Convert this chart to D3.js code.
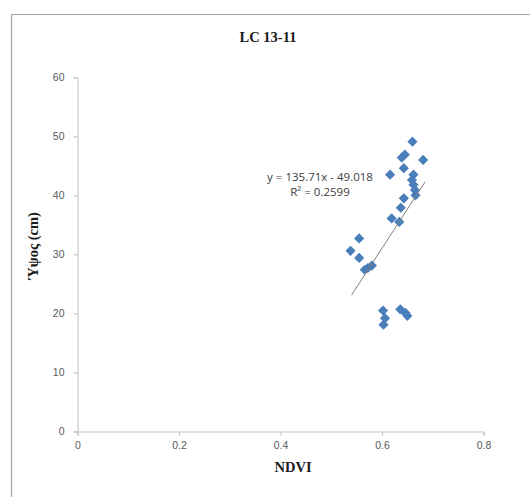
<!DOCTYPE html>
<html>
<head>
<meta charset="utf-8">
<script src="https://cdn.jsdelivr.net/npm/d3@7"></script>
<style>
  html, body { margin: 0; padding: 0; background: #fff; }
  svg { display: block; }
</style>
</head>
<body>
<svg id="chart" width="530" height="497"></svg>
<script>
// ---- data ----
const title = "LC 13-11";
const xLabel = "NDVI";
const yLabel = "Ύψος (cm)";
const ndvi = [0.660, 0.681, 0.639, 0.645, 0.616, 0.643, 0.662, 0.659, 0.662, 0.665, 0.666,
              0.643, 0.637, 0.619, 0.634, 0.555, 0.538, 0.555, 0.580, 0.572, 0.566,
              0.602, 0.606, 0.603, 0.636, 0.646, 0.650];
const height = [49.1, 46.0, 46.4, 46.9, 43.5, 44.6, 43.5, 42.6, 41.8, 40.9, 40.0,
                39.5, 37.9, 36.1, 35.5, 32.7, 30.6, 29.4, 28.1, 27.7, 27.4,
                20.5, 19.2, 18.1, 20.7, 20.1, 19.6];
const xTicks = [0, 0.2, 0.4, 0.6, 0.8];
const yTicks = [0, 10, 20, 30, 40, 50, 60];
const trendX = [0.540, 0.685];
const trendY = [23.1, 42.3];
const equationLines = ["y = 135.71x - 49.018", "R² = 0.2599"];

// ---- layout ----
const svg = d3.select("#chart");
const plot = { left: 77.5, right: 483.5, top: 77.3, bottom: 431.5 };
const x = d3.scaleLinear().domain([0, 0.8]).range([plot.left, plot.right]);
const y = d3.scaleLinear().domain([0, 60]).range([plot.bottom, plot.top]);
const axisColor = "#bfbfbf";
const labelColor = "#595959";

// chart frame
svg.append("path")
  .attr("d", "M11.5,497 L11.5,14.5 L530,14.5")
  .attr("fill", "none").attr("stroke", "#a6a6a6").attr("stroke-width", 1.2);

// title
svg.append("text").attr("x", 268).attr("y", 42)
  .attr("text-anchor", "middle")
  .attr("font-family", "'Liberation Serif', 'Times New Roman', serif")
  .attr("font-weight", "bold").attr("font-size", 14.5).attr("fill", "#1a1a1a")
  .text(title);

// y axis
const yAxis = svg.append("g").attr("transform", `translate(${plot.left},0)`)
  .call(d3.axisLeft(y).tickValues(yTicks).tickSize(4).tickPadding(9).tickFormat(d3.format("d")));
yAxis.select(".domain").attr("stroke", axisColor);
yAxis.selectAll(".tick line").attr("stroke", axisColor);
yAxis.selectAll(".tick text").attr("fill", labelColor)
  .attr("font-family", "'Liberation Sans', Arial, sans-serif").attr("font-size", 10.5);

// x axis
const xAxis = svg.append("g").attr("transform", `translate(0,${plot.bottom})`)
  .call(d3.axisBottom(x).tickValues(xTicks).tickSize(4).tickPadding(6)
    .tickFormat(d => d === 0 ? "0" : d3.format(".1f")(d)));
xAxis.select(".domain").attr("stroke", axisColor);
xAxis.selectAll(".tick line").attr("stroke", axisColor);
xAxis.selectAll(".tick text").attr("fill", labelColor)
  .attr("font-family", "'Liberation Sans', Arial, sans-serif").attr("font-size", 10.5);

// axis titles
svg.append("text").attr("x", 293).attr("y", 472)
  .attr("text-anchor", "middle")
  .attr("font-family", "'Liberation Serif', 'Times New Roman', serif")
  .attr("font-weight", "bold").attr("font-size", 14.5).attr("fill", "#1a1a1a")
  .text(xLabel);
svg.append("text")
  .attr("transform", "translate(38,246) rotate(-90)")
  .attr("text-anchor", "middle")
  .attr("font-family", "'Liberation Serif', 'Times New Roman', serif")
  .attr("font-weight", "bold").attr("font-size", 14.5).attr("fill", "#1a1a1a")
  .text(yLabel);

// points
const pts = ndvi.map((v, i) => ({ x: v, y: height[i] }));
svg.append("g").selectAll("path").data(pts).join("path")
  .attr("d", d3.symbol().type(d3.symbolSquare).size(52))
  .attr("transform", d => `translate(${x(d.x)},${y(d.y)}) rotate(45)`)
  .attr("fill", "#4a7ebb");

// trend line
svg.append("line")
  .attr("x1", x(trendX[0])).attr("y1", y(trendY[0]))
  .attr("x2", x(trendX[1])).attr("y2", y(trendY[1]))
  .attr("stroke", "#7f7f7f").attr("stroke-width", 1);

// equation
svg.append("g").selectAll("text").data(equationLines).join("text")
  .attr("x", 320).attr("y", (d, i) => 181 + i * 15)
  .attr("text-anchor", "middle")
  .attr("font-family", "'Open Sans', 'Liberation Sans', sans-serif")
  .attr("font-size", 11.5).attr("fill", "#404040")
  .text(d => d);
</script>
</body>
</html>
